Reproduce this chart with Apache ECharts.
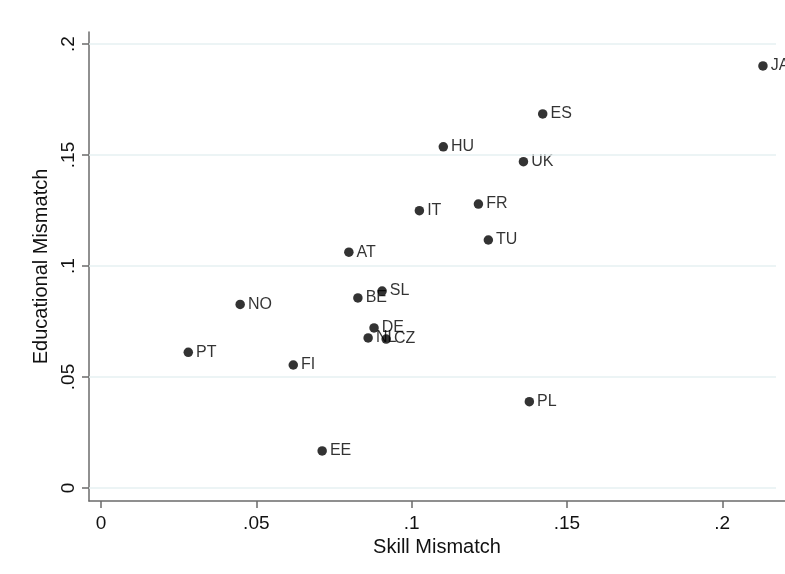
<!DOCTYPE html>
<html>
<head>
<meta charset="utf-8">
<script src="https://cdn.jsdelivr.net/npm/echarts@6/dist/echarts.min.js"></script>
<style>
html,body{margin:0;padding:0;background:#fff;}
#chart{width:785px;height:574px;}
</style>
</head>
<body>
<div id="chart"></div>
<script>
// Country codes
var countries = ['JA','ES','HU','UK','FR','IT','TU','AT','SL','BE','NO','DE','NL','CZ','PT','FI','PL','EE'];
// Skill Mismatch (x)
var skillMismatch = [0.2131,0.1422,0.1102,0.1360,0.1215,0.1025,0.1247,0.0798,0.0905,0.0827,0.0448,0.0879,0.0860,0.0918,0.0281,0.0619,0.1379,0.0712];
// Educational Mismatch (y)
var eduMismatch = [0.1901,0.1685,0.1537,0.1470,0.1279,0.1249,0.1117,0.1062,0.0887,0.0856,0.0827,0.0721,0.0676,0.0671,0.0611,0.0554,0.0389,0.0167];
// Tick values
var xTicks = [0,0.05,0.1,0.15,0.2];
var yTicks = [0,0.05,0.1,0.15,0.2];

var X_MIN = -0.00386, X_MAX = 0.2202, GRID_END = 0.2173;
var Y_MIN = -0.00586, Y_MAX = 0.2054;

var data = countries.map(function(c,i){ return [skillMismatch[i], eduMismatch[i], c]; });
function fmt(v){ if (Math.abs(v) < 1e-9) return '0'; return String(+v.toFixed(4)).replace(/^0/,''); }

var FONT = 'Liberation Sans, Arial, sans-serif';
var chart = echarts.init(document.getElementById('chart'), null, {renderer:'canvas'});
chart.setOption({
  animation:false,
  backgroundColor:'#fff',
  grid:{left:89, right:0, top:32, bottom:73, containLabel:false},
  xAxis:{
    type:'value', min:X_MIN, max:X_MAX,
    name:'Skill Mismatch', nameLocation:'middle', nameGap:28,
    nameTextStyle:{fontFamily:FONT, fontSize:20, color:'#111'},
    axisLine:{show:true, onZero:false, lineStyle:{color:'#6b6b6b', width:1.5}},
    axisTick:{show:true, length:7, customValues:xTicks, lineStyle:{color:'#6b6b6b', width:1.5}},
    axisLabel:{customValues:xTicks, formatter:fmt, margin:13, fontFamily:FONT, fontSize:19, color:'#111'},
    splitLine:{show:false}
  },
  yAxis:{
    type:'value', min:Y_MIN, max:Y_MAX,
    name:'Educational Mismatch', nameLocation:'middle', nameGap:32,
    nameTextStyle:{fontFamily:FONT, fontSize:20, color:'#111'},
    axisLine:{show:true, onZero:false, lineStyle:{color:'#6b6b6b', width:1.5}},
    axisTick:{show:true, length:7, customValues:yTicks, lineStyle:{color:'#6b6b6b', width:1.5}},
    axisLabel:{customValues:yTicks, formatter:fmt, rotate:90, margin:11, fontFamily:FONT, fontSize:19, color:'#111'},
    splitLine:{show:false}
  },
  series:[
    {
      type:'scatter', data:[], z:1, silent:true,
      markLine:{
        silent:true, symbol:['none','none'], label:{show:false},
        lineStyle:{color:'#e6f0f2', width:1.5, type:'solid'},
        data: yTicks.map(function(v){ return [{coord:[X_MIN, v]},{coord:[GRID_END, v]}]; })
      }
    },
    {
      type:'scatter', z:3,
      data:data,
      symbol:'circle', symbolSize:9.5,
      itemStyle:{color:'#000'},
      label:{show:true, position:'right', distance:3, formatter:function(p){return p.data[2];},
             fontFamily:FONT, fontSize:16, color:'#000'},
      labelLayout:{hideOverlap:false}
    }
  ]
});
</script>
</body>
</html>
